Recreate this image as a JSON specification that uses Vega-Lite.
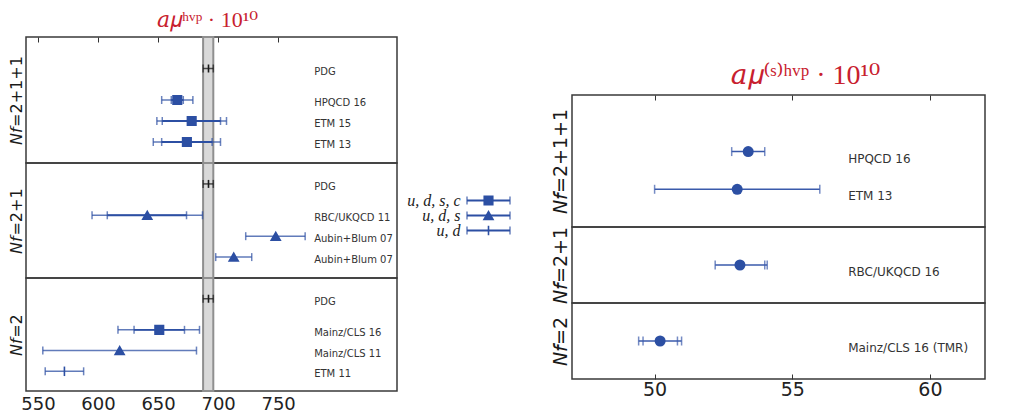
{
  "$schema": "https://vega.github.io/schema/vega-lite/v6.json",
  "background": "white",
  "padding": {"left": 7, "top": 8, "right": 0, "bottom": 0},
  "datasets": {
    "L": [
      {"p": 1, "pos": 3.5, "name": "PDG", "kind": "pdg", "x": 692, "lo": 687.5, "hi": 696, "ilo": null, "ihi": null},
      {"p": 1, "pos": 2, "name": "HPQCD 16", "kind": "udsc", "x": 666, "lo": 653, "hi": 679, "ilo": 661, "ihi": 671},
      {"p": 1, "pos": 1, "name": "ETM 15", "kind": "udsc", "x": 678, "lo": 649, "hi": 707, "ilo": 653.5, "ihi": 702},
      {"p": 1, "pos": 0, "name": "ETM 13", "kind": "udsc", "x": 674, "lo": 646, "hi": 702, "ilo": 653, "ihi": 695},
      {"p": 2, "pos": 3.5, "name": "PDG", "kind": "pdg", "x": 692, "lo": 687.5, "hi": 696, "ilo": null, "ihi": null},
      {"p": 2, "pos": 2, "name": "RBC/UKQCD 11", "kind": "uds", "x": 641, "lo": 595, "hi": 687, "ilo": 607.7, "ihi": 673.7},
      {"p": 2, "pos": 1, "name": "Aubin+Blum 07", "kind": "uds", "x": 748, "lo": 723, "hi": 772.5, "ilo": null, "ihi": null},
      {"p": 2, "pos": 0, "name": "Aubin+Blum 07", "kind": "uds", "x": 713, "lo": 698, "hi": 728, "ilo": null, "ihi": null},
      {"p": 3, "pos": 3.5, "name": "PDG", "kind": "pdg", "x": 692, "lo": 687.5, "hi": 696, "ilo": null, "ihi": null},
      {"p": 3, "pos": 2, "name": "Mainz/CLS 16", "kind": "udsc", "x": 651, "lo": 616.6, "hi": 684.5, "ilo": 630, "ihi": 672},
      {"p": 3, "pos": 1, "name": "Mainz/CLS 11", "kind": "uds", "x": 618, "lo": 554, "hi": 682, "ilo": null, "ihi": null},
      {"p": 3, "pos": 0, "name": "ETM 11", "kind": "ud", "x": 572, "lo": 556, "hi": 588, "ilo": null, "ihi": null}
    ],
    "R": [
      {"p": 1, "pos": 1, "name": "HPQCD 16", "x": 53.4, "lo": 52.8, "hi": 54.0, "ilo": null, "ihi": null},
      {"p": 1, "pos": 0, "name": "ETM 13", "x": 53.0, "lo": 50.0, "hi": 56.0, "ilo": null, "ihi": null},
      {"p": 2, "pos": 0, "name": "RBC/UKQCD 16", "x": 53.1, "lo": 52.2, "hi": 54.09, "ilo": null, "ihi": 54.0},
      {"p": 3, "pos": 0, "name": "Mainz/CLS 16 (TMR)", "x": 50.2, "lo": 49.42, "hi": 50.98, "ilo": 49.58, "ihi": 50.83}
    ],
    "LG": [
      {"k": "u, d, s, c", "kind": "udsc"},
      {"k": "u, d, s", "kind": "uds"},
      {"k": "u, d", "kind": "ud"}
    ]
  },
  "config": {
    "view": {"stroke": "#3a3a3a", "strokeWidth": 1.5},
    "axisY": {"labels": false, "ticks": false, "domain": false, "grid": false, "titleFont": "DejaVu Sans", "titleFontWeight": "normal", "titleColor": "#1a1a1a", "titlePadding": 2, "titleFontSize": 16},
    "axisX": {"grid": false, "domain": false, "labelFont": "DejaVu Sans", "labelColor": "#222", "tickColor": "#333", "title": null},
    "title": {"font": "Liberation Serif, DejaVu Serif", "color": "#c8202e", "fontWeight": "normal", "baseline": "alphabetic"}
  },
  "spacing": 8,
  "hconcat": [
    {
      "spacing": 0,
      "bounds": "flush",
      "resolve": {"scale": {"x": "independent", "y": "independent"}, "axis": {"x": "independent", "y": "independent"}},
      "vconcat": [
        {
          "width": 371, "height": 126,
          "title": {"text": "𝑎𝜇ʰᵛᵖ · 10¹⁰", "fontSize": 22, "offset": 4, "dx": -4},
          "layer": [
            {"data": {"values": [{"a": 687.5, "b": 696}]},
             "mark": {"type": "rect", "fill": "#d9d9d9", "stroke": "#8f8f8f", "strokeWidth": 2},
             "encoding": {"x": {"field": "a", "type": "quantitative", "scale": {"domain": [540, 849], "nice": false, "zero": false}, "axis": {"orient": "top", "labels": false, "tickSize": -5, "values": [550, 600, 650, 700, 750]}}, "x2": {"field": "b"}}},
            {"data": {"name": "L"},
             "transform": [{"filter": "datum.p == 1"}],
             "encoding": {"y": {"field": "pos", "type": "quantitative", "scale": {"domain": [-1, 5], "nice": false, "zero": false}, "axis": {"title": "𝘕𝘧=2+1+1"}}},
             "layer": [
               {"mark": {"type": "rule", "strokeWidth": 1.5, "opacity": 0.75}, "encoding": {"x": {"field": "lo", "type": "quantitative"}, "x2": {"field": "hi"}, "color": {"field": "kind", "type": "nominal", "scale": {"domain": ["pdg", "udsc", "uds", "ud"], "range": ["#1a1a1a", "#2c4fa3", "#2c4fa3", "#2c4fa3"]}, "legend": null}}},
               {"transform": [{"filter": "isValid(datum.ilo)"}], "mark": {"type": "rule", "strokeWidth": 1.8}, "encoding": {"x": {"field": "ilo", "type": "quantitative"}, "x2": {"field": "ihi"}, "color": {"field": "kind", "type": "nominal", "legend": null}}},
               {"transform": [{"fold": ["lo", "hi", "ilo", "ihi"], "as": ["cap", "cx"]}, {"filter": "isValid(datum.cx)"}], "mark": {"type": "tick", "orient": "vertical", "size": 8, "thickness": 1.5}, "encoding": {"x": {"field": "cx", "type": "quantitative"}, "color": {"field": "kind", "type": "nominal", "legend": null}}},
               {"mark": {"type": "point", "filled": true, "opacity": 1, "strokeWidth": 1.6}, "encoding": {"x": {"field": "x", "type": "quantitative"}, "color": {"field": "kind", "type": "nominal", "legend": null}, "stroke": {"field": "kind", "type": "nominal", "scale": {"domain": ["pdg", "udsc", "uds", "ud"], "range": ["#1a1a1a", "#2c4fa3", "#2c4fa3", "#2c4fa3"]}, "legend": null}, "shape": {"field": "kind", "type": "nominal", "scale": {"domain": ["pdg", "udsc", "uds", "ud"], "range": ["M0,-1L0,1", "square", "triangle-up", "M0,-1L0,1"]}, "legend": null}, "size": {"field": "kind", "type": "ordinal", "scale": {"domain": ["pdg", "udsc", "uds", "ud"], "range": [64, 90, 100, 64]}, "legend": null}}},
               {"mark": {"type": "text", "align": "left", "dy": 3, "fontSize": 10, "font": "DejaVu Sans", "color": "#333"}, "encoding": {"x": {"datum": 780, "type": "quantitative"}, "text": {"field": "name"}}}
             ]}
          ]
        },
        {
          "width": 371, "height": 115,
          "layer": [
            {"data": {"values": [{"a": 687.5, "b": 696}]},
             "mark": {"type": "rect", "fill": "#d9d9d9", "stroke": "#8f8f8f", "strokeWidth": 2},
             "encoding": {"x": {"field": "a", "type": "quantitative", "scale": {"domain": [540, 849], "nice": false, "zero": false}, "axis": null}, "x2": {"field": "b"}}},
            {"data": {"name": "L"},
             "transform": [{"filter": "datum.p == 2"}],
             "encoding": {"y": {"field": "pos", "type": "quantitative", "scale": {"domain": [-1, 4.5], "nice": false, "zero": false}, "axis": {"title": "𝘕𝘧=2+1"}}},
             "layer": [
               {"mark": {"type": "rule", "strokeWidth": 1.5, "opacity": 0.75}, "encoding": {"x": {"field": "lo", "type": "quantitative"}, "x2": {"field": "hi"}, "color": {"field": "kind", "type": "nominal", "scale": {"domain": ["pdg", "udsc", "uds", "ud"], "range": ["#1a1a1a", "#2c4fa3", "#2c4fa3", "#2c4fa3"]}, "legend": null}}},
               {"transform": [{"filter": "isValid(datum.ilo)"}], "mark": {"type": "rule", "strokeWidth": 1.8}, "encoding": {"x": {"field": "ilo", "type": "quantitative"}, "x2": {"field": "ihi"}, "color": {"field": "kind", "type": "nominal", "legend": null}}},
               {"transform": [{"fold": ["lo", "hi", "ilo", "ihi"], "as": ["cap", "cx"]}, {"filter": "isValid(datum.cx)"}], "mark": {"type": "tick", "orient": "vertical", "size": 8, "thickness": 1.5}, "encoding": {"x": {"field": "cx", "type": "quantitative"}, "color": {"field": "kind", "type": "nominal", "legend": null}}},
               {"mark": {"type": "point", "filled": true, "opacity": 1, "strokeWidth": 1.6}, "encoding": {"x": {"field": "x", "type": "quantitative"}, "color": {"field": "kind", "type": "nominal", "legend": null}, "stroke": {"field": "kind", "type": "nominal", "scale": {"domain": ["pdg", "udsc", "uds", "ud"], "range": ["#1a1a1a", "#2c4fa3", "#2c4fa3", "#2c4fa3"]}, "legend": null}, "shape": {"field": "kind", "type": "nominal", "scale": {"domain": ["pdg", "udsc", "uds", "ud"], "range": ["M0,-1L0,1", "square", "triangle-up", "M0,-1L0,1"]}, "legend": null}, "size": {"field": "kind", "type": "ordinal", "scale": {"domain": ["pdg", "udsc", "uds", "ud"], "range": [64, 90, 100, 64]}, "legend": null}}},
               {"mark": {"type": "text", "align": "left", "dy": 3, "fontSize": 10, "font": "DejaVu Sans", "color": "#333"}, "encoding": {"x": {"datum": 780, "type": "quantitative"}, "text": {"field": "name"}}}
             ]}
          ]
        },
        {
          "width": 371, "height": 113,
          "layer": [
            {"data": {"values": [{"a": 687.5, "b": 696}]},
             "mark": {"type": "rect", "fill": "#d9d9d9", "stroke": "#8f8f8f", "strokeWidth": 2},
             "encoding": {"x": {"field": "a", "type": "quantitative", "scale": {"domain": [540, 849], "nice": false, "zero": false}, "axis": {"orient": "bottom", "ticks": false, "labelFontSize": 18, "labelPadding": 4, "values": [550, 600, 650, 700, 750]}}, "x2": {"field": "b"}}},
            {"data": {"name": "L"},
             "transform": [{"filter": "datum.p == 3"}],
             "encoding": {"y": {"field": "pos", "type": "quantitative", "scale": {"domain": [-0.95, 4.5], "nice": false, "zero": false}, "axis": {"title": "𝘕𝘧=2"}}},
             "layer": [
               {"mark": {"type": "rule", "strokeWidth": 1.5, "opacity": 0.75}, "encoding": {"x": {"field": "lo", "type": "quantitative"}, "x2": {"field": "hi"}, "color": {"field": "kind", "type": "nominal", "scale": {"domain": ["pdg", "udsc", "uds", "ud"], "range": ["#1a1a1a", "#2c4fa3", "#2c4fa3", "#2c4fa3"]}, "legend": null}}},
               {"transform": [{"filter": "isValid(datum.ilo)"}], "mark": {"type": "rule", "strokeWidth": 1.8}, "encoding": {"x": {"field": "ilo", "type": "quantitative"}, "x2": {"field": "ihi"}, "color": {"field": "kind", "type": "nominal", "legend": null}}},
               {"transform": [{"fold": ["lo", "hi", "ilo", "ihi"], "as": ["cap", "cx"]}, {"filter": "isValid(datum.cx)"}], "mark": {"type": "tick", "orient": "vertical", "size": 8, "thickness": 1.5}, "encoding": {"x": {"field": "cx", "type": "quantitative"}, "color": {"field": "kind", "type": "nominal", "legend": null}}},
               {"mark": {"type": "point", "filled": true, "opacity": 1, "strokeWidth": 1.6}, "encoding": {"x": {"field": "x", "type": "quantitative"}, "color": {"field": "kind", "type": "nominal", "legend": null}, "stroke": {"field": "kind", "type": "nominal", "scale": {"domain": ["pdg", "udsc", "uds", "ud"], "range": ["#1a1a1a", "#2c4fa3", "#2c4fa3", "#2c4fa3"]}, "legend": null}, "shape": {"field": "kind", "type": "nominal", "scale": {"domain": ["pdg", "udsc", "uds", "ud"], "range": ["M0,-1L0,1", "square", "triangle-up", "M0,-1L0,1"]}, "legend": null}, "size": {"field": "kind", "type": "ordinal", "scale": {"domain": ["pdg", "udsc", "uds", "ud"], "range": [64, 90, 100, 64]}, "legend": null}}},
               {"mark": {"type": "text", "align": "left", "dy": 3, "fontSize": 10, "font": "DejaVu Sans", "color": "#333"}, "encoding": {"x": {"datum": 780, "type": "quantitative"}, "text": {"field": "name"}}}
             ]}
          ]
        }
      ]
    },
    {
      "spacing": 39,
      "hconcat": [
        {
          "spacing": 0,
          "bounds": "flush",
          "vconcat": [
            {"width": 43, "height": 156, "view": {"stroke": null}, "data": {"values": []}, "mark": {"type": "rule"}, "encoding": {}},
            {
              "width": 43, "height": 45, "view": {"stroke": null},
              "data": {"name": "LG"},
              "encoding": {"y": {"field": "k", "type": "nominal", "sort": null, "scale": {"paddingInner": 0, "paddingOuter": 0}, "axis": {"labels": true, "title": null, "labelFont": "Liberation Serif, DejaVu Serif", "labelFontStyle": "italic", "labelFontSize": 16, "labelColor": "#222", "labelPadding": 7, "ticks": false, "domain": false}}},
              "layer": [
                {"mark": {"type": "rule", "strokeWidth": 1.8, "color": "#2c4fa3"}, "encoding": {"x": {"datum": 0, "type": "quantitative", "scale": {"domain": [0, 1], "nice": false, "zero": false}, "axis": null}, "x2": {"datum": 1}}},
                {"mark": {"type": "tick", "orient": "vertical", "size": 8, "thickness": 1.5, "color": "#2c4fa3"}, "encoding": {"x": {"datum": 0, "type": "quantitative"}}},
                {"mark": {"type": "tick", "orient": "vertical", "size": 8, "thickness": 1.5, "color": "#2c4fa3"}, "encoding": {"x": {"datum": 1, "type": "quantitative"}}},
                {"mark": {"type": "point", "filled": true, "opacity": 1, "color": "#2c4fa3", "stroke": "#2c4fa3", "strokeWidth": 1.6}, "encoding": {"x": {"datum": 0.5, "type": "quantitative"}, "shape": {"field": "kind", "type": "nominal", "scale": {"domain": ["pdg", "udsc", "uds", "ud"], "range": ["M0,-1L0,1", "square", "triangle-up", "M0,-1L0,1"]}, "legend": null}, "size": {"field": "kind", "type": "ordinal", "scale": {"domain": ["pdg", "udsc", "uds", "ud"], "range": [64, 90, 100, 64]}, "legend": null}}}
              ]
            }
          ]
        },
        {
          "spacing": 0,
          "bounds": "flush",
          "resolve": {"scale": {"x": "independent", "y": "independent"}, "axis": {"x": "independent", "y": "independent"}},
          "vconcat": [
            {"width": 413, "height": 58, "view": {"stroke": null}, "data": {"values": []}, "mark": {"type": "rule"}, "encoding": {}},
            {
              "width": 413, "height": 132,
              "title": {"text": "𝑎𝜇⁽ˢ⁾ʰᵛᵖ · 10¹⁰", "fontSize": 28, "offset": 5, "dx": 27},
              "data": {"name": "R"},
              "transform": [{"filter": "datum.p == 1"}],
              "encoding": {"y": {"field": "pos", "type": "quantitative", "scale": {"domain": [-1, 2.5], "nice": false, "zero": false}, "axis": {"title": "𝘕𝘧=2+1+1", "titleFontSize": 19}}},
              "layer": [
                {"mark": {"type": "rule", "strokeWidth": 1.5, "color": "#3a5aab"}, "encoding": {"x": {"field": "lo", "type": "quantitative", "scale": {"domain": [47, 62], "nice": false, "zero": false}, "axis": {"orient": "top", "labels": false, "tickSize": -5, "values": [50, 55, 60]}}, "x2": {"field": "hi"}}},
                {"transform": [{"fold": ["lo", "hi", "ilo", "ihi"], "as": ["cap", "cx"]}, {"filter": "isValid(datum.cx)"}], "mark": {"type": "tick", "orient": "vertical", "size": 9, "thickness": 1.5, "color": "#3a5aab"}, "encoding": {"x": {"field": "cx", "type": "quantitative"}}},
                {"mark": {"type": "point", "filled": true, "opacity": 1, "shape": "circle", "size": 121, "color": "#2c4fa3"}, "encoding": {"x": {"field": "x", "type": "quantitative"}}},
                {"mark": {"type": "text", "align": "left", "dy": 7, "fontSize": 12, "font": "DejaVu Sans", "color": "#333"}, "encoding": {"x": {"datum": 57.03, "type": "quantitative"}, "text": {"field": "name"}}}
              ]
            },
            {
              "width": 413, "height": 76,
              "data": {"name": "R"},
              "transform": [{"filter": "datum.p == 2"}],
              "encoding": {"y": {"field": "pos", "type": "quantitative", "scale": {"domain": [-1, 1], "nice": false, "zero": false}, "axis": {"title": "𝘕𝘧=2+1", "titleFontSize": 19}}},
              "layer": [
                {"mark": {"type": "rule", "strokeWidth": 1.5, "color": "#3a5aab"}, "encoding": {"x": {"field": "lo", "type": "quantitative", "scale": {"domain": [47, 62], "nice": false, "zero": false}, "axis": null}, "x2": {"field": "hi"}}},
                {"transform": [{"fold": ["lo", "hi", "ilo", "ihi"], "as": ["cap", "cx"]}, {"filter": "isValid(datum.cx)"}], "mark": {"type": "tick", "orient": "vertical", "size": 9, "thickness": 1.5, "color": "#3a5aab"}, "encoding": {"x": {"field": "cx", "type": "quantitative"}}},
                {"mark": {"type": "point", "filled": true, "opacity": 1, "shape": "circle", "size": 121, "color": "#2c4fa3"}, "encoding": {"x": {"field": "x", "type": "quantitative"}}},
                {"mark": {"type": "text", "align": "left", "dy": 7, "fontSize": 12, "font": "DejaVu Sans", "color": "#333"}, "encoding": {"x": {"datum": 57.03, "type": "quantitative"}, "text": {"field": "name"}}}
              ]
            },
            {
              "width": 413, "height": 76,
              "data": {"name": "R"},
              "transform": [{"filter": "datum.p == 3"}],
              "encoding": {"y": {"field": "pos", "type": "quantitative", "scale": {"domain": [-1, 1], "nice": false, "zero": false}, "axis": {"title": "𝘕𝘧=2", "titleFontSize": 19}}},
              "layer": [
                {"mark": {"type": "rule", "strokeWidth": 1.5, "color": "#3a5aab"}, "encoding": {"x": {"field": "lo", "type": "quantitative", "scale": {"domain": [47, 62], "nice": false, "zero": false}, "axis": {"orient": "bottom", "tickSize": -5, "labelFontSize": 19, "labelPadding": 6, "values": [50, 55, 60]}}, "x2": {"field": "hi"}}},
                {"transform": [{"fold": ["lo", "hi", "ilo", "ihi"], "as": ["cap", "cx"]}, {"filter": "isValid(datum.cx)"}], "mark": {"type": "tick", "orient": "vertical", "size": 9, "thickness": 1.5, "color": "#3a5aab"}, "encoding": {"x": {"field": "cx", "type": "quantitative"}}},
                {"mark": {"type": "point", "filled": true, "opacity": 1, "shape": "circle", "size": 121, "color": "#2c4fa3"}, "encoding": {"x": {"field": "x", "type": "quantitative"}}},
                {"mark": {"type": "text", "align": "left", "dy": 7, "fontSize": 12, "font": "DejaVu Sans", "color": "#333"}, "encoding": {"x": {"datum": 57.03, "type": "quantitative"}, "text": {"field": "name"}}}
              ]
            }
          ]
        }
      ]
    }
  ]
}
